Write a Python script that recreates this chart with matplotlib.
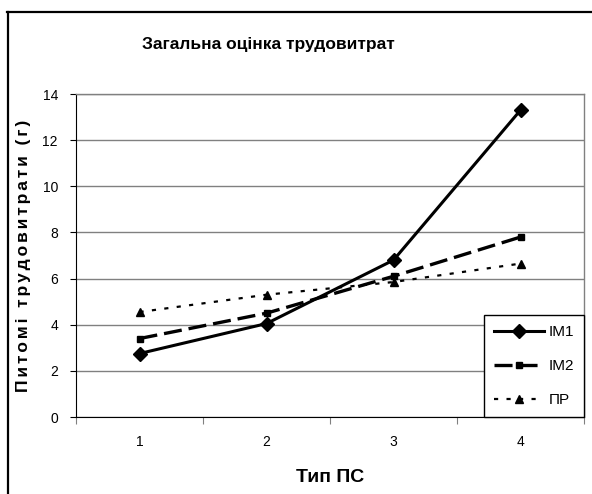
import matplotlib
matplotlib.use("Agg")
import matplotlib.pyplot as plt
from matplotlib.lines import Line2D

plt.rcParams['font.family'] = ['Liberation Sans', 'DejaVu Sans']
plt.rcParams['lines.scale_dashes'] = False

categories = ['1', '2', '3', '4']
im1 = [2.75, 4.05, 6.8, 13.3]
im2 = [3.4, 4.5, 6.1, 7.8]
pr = [4.55, 5.3, 5.85, 6.65]
series_names = ['ІМ1', 'ІМ2', 'ПР']
title = 'Загальна оцінка трудовитрат'
xlabel = 'Тип ПС'
ylabel = 'Питомі трудовитрати (г)'
yticks = [0, 2, 4, 6, 8, 10, 12, 14]

fig = plt.figure(figsize=(5.92, 4.94), dpi=100)
W, H = 592, 494
ax = fig.add_axes([76 / W, 1 - 417 / H, 508 / W, 323 / H])

x = list(range(1, len(categories) + 1))
ax.plot(x, im1, color='black', lw=2.2, marker='D', ms=7.5, label=series_names[0], zorder=5)
ax.plot(x, im2, color='black', lw=2.4, marker='s', ms=5, dashes=(13, 5), label=series_names[1], zorder=4)
ax.plot(x, pr, color='black', lw=1.6, marker='^', ms=5.5, dashes=(3, 6), label=series_names[2], zorder=3)

ax.set_xlim(0.5, 4.5)
ax.set_ylim(0, 14)
ax.set_yticks(yticks)
ax.set_yticklabels([str(v) for v in yticks], fontsize=10)
ax.yaxis.grid(True, color='#808080', lw=1)
ax.set_axisbelow(True)
ax.set_xticks([0.5, 1.5, 2.5, 3.5, 4.5])
ax.set_xticklabels([])
ax.set_xticks(x, minor=True)
ax.set_xticklabels(categories, minor=True, fontsize=10)
ax.tick_params(axis='x', which='major', length=5, direction='out', color='#808080')
ax.tick_params(axis='x', which='minor', length=0, pad=13)
ax.tick_params(axis='y', length=4, direction='out', pad=9)

for s in ['top', 'right']:
    ax.spines[s].set_color('#808080')
    ax.spines[s].set_linewidth(1)
ax.spines['bottom'].set_color('black')
ax.spines['left'].set_color('black')

ax.set_xlabel(xlabel, fontsize=14, fontweight='bold', labelpad=14)
spaced_ylabel = '\u2006'.join(ylabel)
ax.set_ylabel(spaced_ylabel, fontsize=12.5, fontweight='bold', labelpad=8)
fig.text(268 / W, 1 - 44 / H, title, fontsize=12.5, fontweight='bold', ha='center', va='center')

leg = ax.legend(loc='lower right', bbox_to_anchor=(1, 0), borderaxespad=0, fancybox=False,
                edgecolor='black', framealpha=1, fontsize=11, handlelength=3.3,
                handletextpad=0.3, labelspacing=1.3, borderpad=0.65)
leg.get_frame().set_linewidth(1)

fig.add_artist(Line2D([8 / W, 8 / W], [0, 1 - 12 / H], transform=fig.transFigure, color='black', lw=1.6))
fig.add_artist(Line2D([7 / W, 1], [1 - 12 / H, 1 - 12 / H], transform=fig.transFigure, color='black', lw=1.6))

fig.savefig('out.png', dpi=100)
